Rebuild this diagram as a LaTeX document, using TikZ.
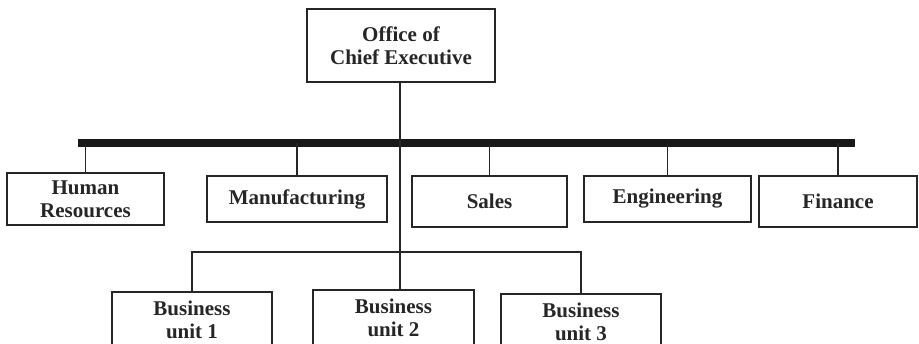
\documentclass[tikz,border=0pt]{standalone}
\usepackage{fontspec}
\setmainfont{Liberation Serif}
\begin{document}
\begin{tikzpicture}[x=1pt,y=-1pt,
  box/.style={draw=black!85, line width=1.6pt, align=center, inner sep=0pt,
    font=\fontsize{21}{23.5}\selectfont\bfseries, text=black!85},
  conn/.style={draw=black!85, line width=1.5pt}]
\useasboundingbox (0,0) rectangle (919,343);
\clip (0,0) rectangle (919,343);
\node[box, minimum width=188, minimum height=73] (ceo) at (401,45.5) {Office of\\Chief Executive};
\node[box, minimum width=157, minimum height=52] (hr) at (85.5,199) {Human\\Resources};
\node[box, minimum width=180, minimum height=46] (mfg) at (297,199) {Manufacturing};
\node[box, minimum width=155, minimum height=51] (sales) at (489.5,201.5) {Sales};
\node[box, minimum width=167, minimum height=46] (eng) at (667.5,199) {Engineering};
\node[box, minimum width=158, minimum height=51] (fin) at (838,201.5) {Finance};
\node[box, minimum width=160, minimum height=56, anchor=north] (bu1) at (192,291) {Business\\unit 1};
\node[box, minimum width=161, minimum height=56, anchor=north] (bu2) at (393.5,289) {Business\\unit 2};
\node[box, minimum width=160, minimum height=56, anchor=north] (bu3) at (581,293) {Business\\unit 3};
\coordinate (bl) at (78,143);
\coordinate (br) at (855,143);
\coordinate (bb) at (400,252);
\draw[line width=8pt, black!90] (bl) -- (br);
\draw[conn] (ceo.south -| bb) -- (bb |- bu2.north);
\draw[conn] (hr.north) -- (hr.north |- bl);
\draw[conn] (mfg.north) -- (mfg.north |- bl);
\draw[conn] (sales.north) -- (sales.north |- bl);
\draw[conn] (eng.north) -- (eng.north |- bl);
\draw[conn] (fin.north) -- (fin.north |- bl);
\draw[conn] (bu1.north) |- (bb) -| (bu3.north);
\end{tikzpicture}
\end{document}
